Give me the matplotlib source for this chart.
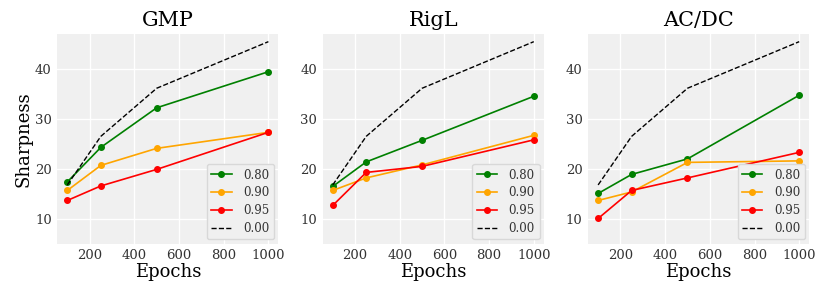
import matplotlib
matplotlib.use("Agg")
import matplotlib.pyplot as plt

epochs = [100, 250, 500, 1000]
methods = ["GMP", "RigL", "AC/DC"]
sparsities = ["0.80", "0.90", "0.95"]
colors = ["green", "orange", "red"]

gmp_080 = [17.5, 24.4, 32.3, 39.5]
gmp_090 = [15.8, 20.8, 24.2, 27.4]
gmp_095 = [13.8, 16.7, 20.0, 27.4]

rigl_080 = [16.6, 21.5, 25.8, 34.6]
rigl_090 = [15.8, 18.3, 20.9, 26.8]
rigl_095 = [12.8, 19.4, 20.6, 25.9]

acdc_080 = [15.2, 19.0, 22.1, 34.8]
acdc_090 = [13.8, 15.5, 21.4, 21.7]
acdc_095 = [10.2, 15.8, 18.3, 23.4]

dense = [16.9, 26.6, 36.2, 45.5]

series = {
    "GMP": [gmp_080, gmp_090, gmp_095],
    "RigL": [rigl_080, rigl_090, rigl_095],
    "AC/DC": [acdc_080, acdc_090, acdc_095],
}

plt.rcParams["font.family"] = "DejaVu Serif"

fig, axes = plt.subplots(1, 3, figsize=(8.3, 2.97), dpi=100)
fig.subplots_adjust(left=0.069, right=0.975, top=0.885, bottom=0.18, wspace=0.2)

for ax, m in zip(axes, methods):
    ax.set_facecolor("#f0f0f0")
    for s in ax.spines.values():
        s.set_visible(False)
    ax.grid(True, color="white", linewidth=1.0)
    ax.set_axisbelow(True)
    for vals, lab, c in zip(series[m], sparsities, colors):
        ax.plot(epochs, vals, marker="o", color=c, label=lab, markersize=4, linewidth=1.2)
    ax.plot(epochs, dense, "k--", label="0.00", linewidth=1.0)
    ax.set_ylim(5.2, 47)
    ax.set_yticks([10, 20, 30, 40])
    ax.set_xticks([200, 400, 600, 800, 1000])
    ax.tick_params(length=0, labelsize=9.5, labelcolor="#333333", pad=4)
    ax.set_title(m, fontsize=15)
    ax.set_xlabel("Epochs", fontsize=13, labelpad=1)
    leg = ax.legend(loc="lower right", fontsize=8.5, facecolor="#f0f0f0",
                    edgecolor="#d8d8d8", framealpha=1.0, handlelength=1.7,
                    handletextpad=1.0, labelspacing=0.4, borderaxespad=0.35)
    for t in leg.get_texts():
        t.set_color("#333333")

axes[0].set_ylabel("Sharpness", fontsize=13, labelpad=2)

fig.savefig("out.png", dpi=100)
